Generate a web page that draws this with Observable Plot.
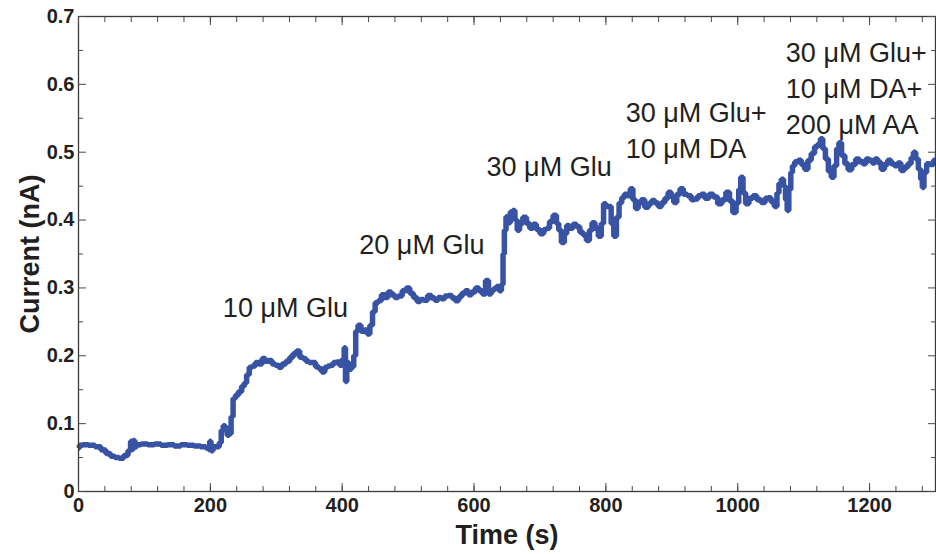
<!DOCTYPE html>
<html>
<head>
<meta charset="utf-8">
<script src="https://cdn.jsdelivr.net/npm/d3@7"></script>
<script src="https://cdn.jsdelivr.net/npm/@observablehq/plot@0.6"></script>
<style>
  html, body { margin: 0; padding: 0; background: #ffffff; }
  #chart { width: 936px; height: 554px; }
</style>
</head>
<body>
<div id="chart"></div>
<script>
// Time (s) and current (nA)
const time_s = [0,3,10,20,30,38,45,52,58,65,72,78,80,82,84,87,90,100,110,120,130,140,150,160,170,180,190,196,198,200,202,206,212,215,218,221,224,227,230,233,236,240,245,250,253,257,261,266,271,276,281,286,291,296,301,306,311,318,323,328,333,338,343,347,352,357,362,367,371,376,380,384,389,394,398,402,404,406,408,412,416,419,422,426,431,436,440,444,448,452,457,462,467,472,477,482,488,494,500,505,511,516,521,526,533,538,543,548,553,558,564,569,574,579,584,589,594,599,605,610,615,620,624,628,632,636,640,643,645,647,650,653,657,660,664,667,671,677,682,687,692,697,703,708,712,717,723,727,730,735,739,742,747,753,758,763,768,773,777,781,786,791,795,798,802,806,810,814,818,822,826,830,835,839,843,847,851,856,862,867,872,877,882,887,892,897,901,905,910,915,920,927,932,937,942,947,953,960,966,973,979,985,990,995,1000,1003,1006,1010,1014,1020,1026,1032,1039,1044,1048,1053,1058,1061,1064,1068,1071,1074,1076,1079,1082,1084,1089,1094,1099,1104,1109,1114,1119,1124,1127,1131,1135,1140,1144,1148,1152,1155,1160,1165,1170,1176,1182,1187,1192,1197,1202,1206,1210,1215,1220,1225,1230,1235,1240,1245,1250,1255,1261,1265,1268,1272,1276,1279,1281,1284,1289,1294,1300];
const current_nA = [0.064,0.068,0.069,0.068,0.066,0.061,0.056,0.052,0.050,0.049,0.053,0.060,0.074,0.062,0.075,0.066,0.069,0.070,0.069,0.070,0.068,0.069,0.067,0.069,0.068,0.067,0.066,0.064,0.062,0.074,0.060,0.066,0.066,0.072,0.090,0.097,0.094,0.083,0.085,0.110,0.137,0.142,0.147,0.155,0.160,0.172,0.183,0.185,0.190,0.188,0.196,0.192,0.193,0.188,0.186,0.183,0.188,0.192,0.198,0.203,0.207,0.198,0.196,0.192,0.190,0.190,0.184,0.181,0.176,0.183,0.185,0.186,0.190,0.191,0.186,0.195,0.212,0.162,0.190,0.180,0.184,0.200,0.236,0.245,0.236,0.238,0.232,0.245,0.265,0.278,0.281,0.290,0.286,0.294,0.290,0.286,0.288,0.296,0.300,0.292,0.286,0.280,0.283,0.282,0.289,0.285,0.282,0.286,0.284,0.288,0.289,0.285,0.281,0.287,0.292,0.296,0.290,0.294,0.300,0.296,0.291,0.311,0.291,0.296,0.299,0.302,0.296,0.305,0.350,0.385,0.405,0.396,0.412,0.414,0.400,0.385,0.395,0.404,0.395,0.388,0.394,0.386,0.380,0.386,0.388,0.398,0.407,0.395,0.385,0.367,0.380,0.392,0.388,0.394,0.390,0.382,0.378,0.370,0.385,0.396,0.388,0.376,0.395,0.424,0.420,0.420,0.395,0.376,0.404,0.425,0.433,0.438,0.436,0.446,0.430,0.417,0.425,0.430,0.419,0.424,0.429,0.425,0.420,0.426,0.432,0.441,0.435,0.426,0.438,0.446,0.438,0.436,0.430,0.431,0.436,0.438,0.432,0.438,0.434,0.424,0.430,0.441,0.428,0.411,0.425,0.445,0.463,0.440,0.424,0.432,0.436,0.430,0.426,0.432,0.433,0.427,0.420,0.440,0.454,0.460,0.450,0.430,0.414,0.445,0.470,0.480,0.486,0.488,0.482,0.475,0.488,0.498,0.508,0.512,0.520,0.505,0.490,0.472,0.463,0.480,0.505,0.514,0.495,0.483,0.474,0.482,0.490,0.486,0.483,0.490,0.488,0.484,0.490,0.485,0.475,0.482,0.488,0.483,0.480,0.484,0.473,0.478,0.483,0.492,0.500,0.490,0.475,0.460,0.448,0.470,0.483,0.482,0.488];

// Annotations (text, time, current at top of text)
const annoText = ["10 \u03bcM Glu", "20 \u03bcM Glu", "30 \u03bcM Glu", "30 \u03bcM Glu+\n10 \u03bcM DA", "30 \u03bcM Glu+\n10 \u03bcM DA+\n200 \u03bcM AA"];
const annoT = [219, 426, 619, 830, 1073];
const annoV = [0.295, 0.388, 0.503, 0.582, 0.670];

// Tick values
const xMajor = [0, 200, 400, 600, 800, 1000, 1200];
const xMinor = [0,40,80,120,160,200,240,280,320,360,400,440,480,520,560,600,640,680,720,760,800,840,880,920,960,1000,1040,1080,1120,1160,1200,1240,1280];
const yMajor = [0, 0.1, 0.2, 0.3, 0.4, 0.5, 0.6, 0.7];
const yMinor = [0.05, 0.15, 0.25, 0.35, 0.45, 0.55, 0.65];

const trace = time_s.map((t, i) => ({t, v: current_nA[i]}));
const annos = annoText.map((s, i) => ({s, t: annoT[i], v: annoV[i]}));

const ink = "#231f20";
const tickInk = "#4a4a4a";

const chart = Plot.plot({
  width: 936,
  height: 554,
  marginLeft: 78,
  marginRight: 1,
  marginTop: 16,
  marginBottom: 63,
  style: {fontFamily: "'Liberation Sans', Arial, sans-serif", background: "#ffffff", color: ink},
  x: {domain: [0, 1300]},
  y: {domain: [0, 0.7]},
  marks: [
    Plot.line(trace, {x: "t", y: "v", curve: "step", stroke: "#3853a4", strokeWidth: 5.5, strokeLinejoin: "miter", strokeLinecap: "butt"}),
    Plot.frame({stroke: "#3a3a3a", strokeWidth: 1.3}),
    // inward ticks, bottom & top
    Plot.axisX(xMinor, {anchor: "bottom", tickSize: -5, text: null, label: null, stroke: tickInk}),
    Plot.axisX(xMajor, {anchor: "bottom", tickSize: -8, text: null, label: null, stroke: tickInk}),
    Plot.axisX(xMinor, {anchor: "top", tickSize: -5, text: null, label: null, stroke: tickInk}),
    Plot.axisX(xMajor, {anchor: "top", tickSize: -8, text: null, label: null, stroke: tickInk}),
    Plot.axisX(xMajor, {anchor: "bottom", tickSize: 0, tickPadding: 6, label: null, fontSize: 20, fontWeight: "bold", fill: ink, tickFormat: d3.format("d")}),
    // inward ticks, left & right
    Plot.axisY(yMinor, {anchor: "left", tickSize: -5, text: null, label: null, stroke: tickInk}),
    Plot.axisY(yMajor, {anchor: "left", tickSize: -8, text: null, label: null, stroke: tickInk}),
    Plot.axisY(yMinor, {anchor: "right", tickSize: -5, text: null, label: null, stroke: tickInk}),
    Plot.axisY(yMajor, {anchor: "right", tickSize: -8, text: null, label: null, stroke: tickInk}),
    Plot.axisY(yMajor, {anchor: "left", tickSize: 0, tickPadding: 4, label: null, fontSize: 20, fontWeight: "bold", fill: ink, tickFormat: d3.format("~g")}),
    // annotations
    Plot.text(annos, {x: "t", y: "v", text: "s", textAnchor: "start", lineAnchor: "top", fontSize: 27, lineHeight: 1.33, fill: ink}),
    // axis titles
    Plot.text(["Time (s)"], {text: d => d, frameAnchor: "bottom", dy: 52, lineAnchor: "bottom", fontSize: 27, fontWeight: "bold", fill: ink}),
    Plot.text(["Current (nA)"], {text: d => d, frameAnchor: "left", dx: -40, rotate: -90, textAnchor: "middle", lineAnchor: "bottom", fontSize: 27, fontWeight: "bold", fill: ink})
  ]
});
document.getElementById("chart").appendChild(chart);
</script>
</body>
</html>
